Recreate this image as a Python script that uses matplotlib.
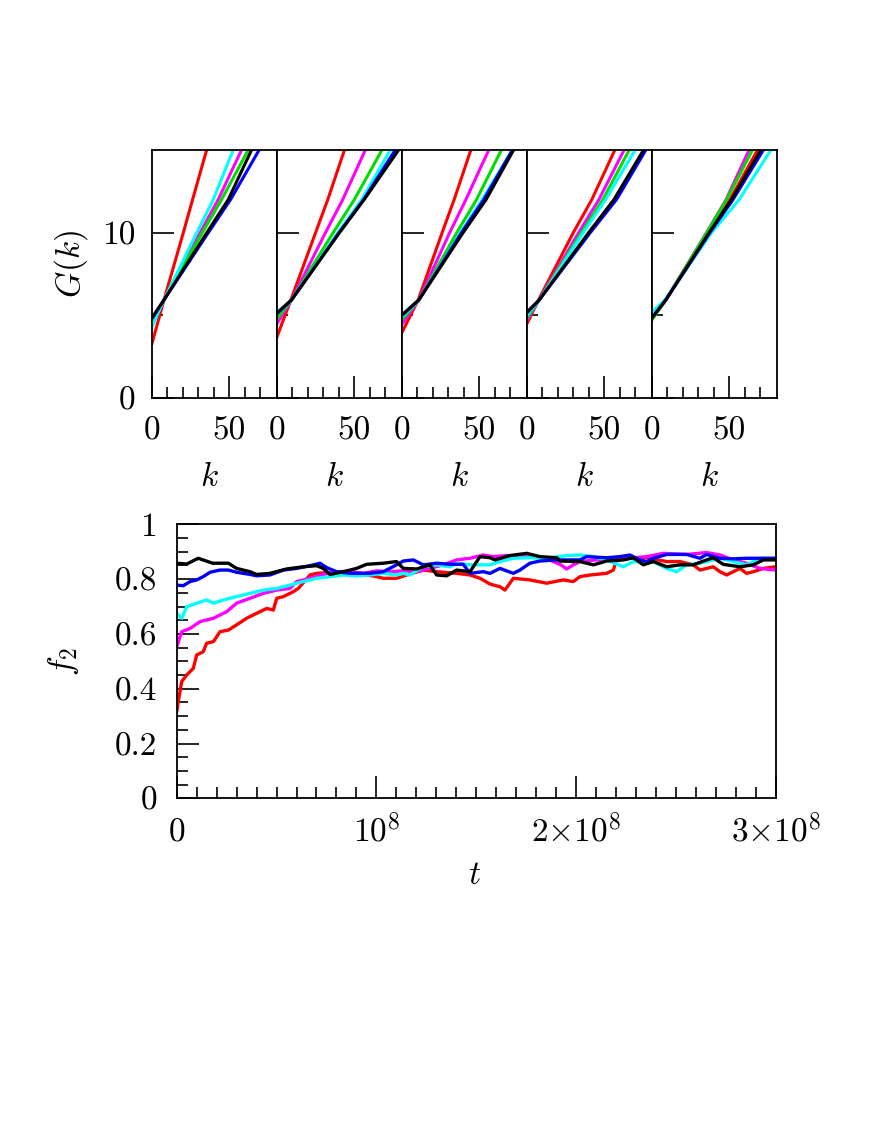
import numpy as np
import matplotlib
matplotlib.use("Agg")
import matplotlib.pyplot as plt
from matplotlib.ticker import FixedLocator, FixedFormatter, MultipleLocator

plt.rcParams['font.family'] = 'cmr10'
plt.rcParams['mathtext.fontset'] = 'cm'
plt.rcParams['axes.unicode_minus'] = False

colors = ['#ff0000', '#ff00ff', '#00dd00', '#00ffff', '#0000ff', '#000000']

# G(k) curves, 5 panels x 6 curves, k values at the G levels below
G_levels = [5.94, 10, 12, 15]
panel_G0 = [
    [3.3, 4.5, 4.65, 4.3, 4.8, 4.85],
    [3.7, 4.5, 4.8, 5.1, 5.1, 5.15],
    [3.96, 4.46, 4.73, 4.9, 5.0, 5.03],
    [4.5, 4.7, 4.85, 5.0, 5.15, 5.2],
    [4.8, 4.8, 4.73, 5.2, 4.85, 4.85],
]
panel_k = [
    [[7.8, 20.3, 26.3, 35.4], [7.8, 31.2, 42.9, 58.0], [7.8, 32.6, 45.1, 62.3],
     [7.8, 29.0, 39.7, 52.6], [7.8, 36.5, 50.9, 69.4], [7.8, 35.5, 49.4, 64.5]],
    [[9.0, 25.0, 32.9, 43.7], [9.5, 31.4, 42.6, 57.2], [9.5, 36.4, 50.1, 68.0],
     [9.5, 39.5, 54.9, 73.4], [9.5, 40.2, 56.1, 76.6], [9.5, 40.5, 56.5, 78.8]],
    [[10.5, 26.0, 33.8, 44.6], [11.0, 30.9, 41.4, 56.2], [11.0, 35.5, 48.3, 64.4],
     [11.0, 38.0, 52.0, 71.5], [11.0, 38.5, 53.0, 71.5], [11.0, 39.6, 54.5, 72.3]],
    [[7.5, 30.0, 42.0, 56.9], [8.0, 33.5, 46.6, 62.9], [8.0, 35.2, 49.2, 66.2],
     [8.0, 36.4, 50.9, 70.1], [8.0, 41.0, 58.0, 77.0], [8.0, 39.9, 56.3, 75.5]],
    [[9.0, 36.5, 50.5, 68.4], [9.0, 35.3, 48.0, 62.9], [9.0, 35.5, 48.3, 65.1],
     [8.5, 38.6, 56.5, 77.0], [9.0, 37.5, 52.5, 72.2], [9.0, 37.0, 51.5, 70.5]],
]

# f2(t), t in units of 1e8
t_red = [0.0, 0.008, 0.025, 0.05, 0.083, 0.1, 0.133, 0.15, 0.184, 0.217, 0.259, 0.3, 0.35, 0.4,
         0.451, 0.484, 0.501, 0.534, 0.584, 0.609, 0.668, 0.701, 0.801, 0.901, 1.001, 1.035, 1.101,
         1.152, 1.235, 1.302, 1.402, 1.469, 1.519, 1.569, 1.619, 1.644, 1.686, 1.769, 1.853, 1.936,
         1.986, 2.02, 2.07, 2.153, 2.187, 2.203, 2.27, 2.354, 2.454, 2.521, 2.587, 2.621, 2.687,
         2.721, 2.754, 2.821, 2.854, 2.888, 2.938, 3.0]
f_red = [0.316, 0.353, 0.426, 0.45, 0.474, 0.523, 0.535, 0.566, 0.572, 0.608, 0.614, 0.633, 0.657,
         0.675, 0.693, 0.687, 0.73, 0.736, 0.754, 0.766, 0.815, 0.821, 0.825, 0.821, 0.809, 0.803,
         0.803, 0.815, 0.833, 0.827, 0.821, 0.815, 0.803, 0.782, 0.772, 0.76, 0.803, 0.797, 0.785,
         0.797, 0.791, 0.809, 0.815, 0.821, 0.833, 0.87, 0.876, 0.878, 0.864, 0.864, 0.852, 0.833,
         0.845, 0.827, 0.815, 0.839, 0.821, 0.827, 0.839, 0.845]

t_mag = [0.0, 0.025, 0.067, 0.117, 0.184, 0.25, 0.3, 0.367, 0.434, 0.501, 0.567, 0.601, 0.668, 0.734,
         0.801, 0.868, 0.935, 1.001, 1.068, 1.135, 1.202, 1.268, 1.335, 1.402, 1.469, 1.535, 1.586,
         1.652, 1.719, 1.786, 1.853, 1.886, 1.92, 1.953, 1.986, 2.02, 2.103, 2.187, 2.27, 2.354,
         2.437, 2.554, 2.654, 2.721, 2.788, 2.854, 2.921, 3.0]
f_mag = [0.553, 0.608, 0.62, 0.645, 0.657, 0.681, 0.712, 0.73, 0.748, 0.76, 0.766, 0.791, 0.803,
         0.817, 0.827, 0.827, 0.821, 0.83, 0.827, 0.83, 0.827, 0.839, 0.852, 0.87, 0.876, 0.888,
         0.882, 0.886, 0.882, 0.882, 0.876, 0.864, 0.854, 0.837, 0.852, 0.864, 0.87, 0.876, 0.876,
         0.882, 0.894, 0.89, 0.897, 0.888, 0.87, 0.858, 0.839, 0.833]

t_cyan = [0.0, 0.025, 0.05, 0.1, 0.15, 0.184, 0.234, 0.3, 0.367, 0.434, 0.501, 0.567, 0.601, 0.634,
          0.701, 0.768, 0.834, 0.901, 0.968, 1.035, 1.101, 1.135, 1.168, 1.235, 1.302, 1.369, 1.402,
          1.469, 1.535, 1.569, 1.619, 1.686, 1.769, 1.853, 1.953, 2.02, 2.087, 2.153, 2.237, 2.287,
          2.387, 2.454, 2.504, 2.554, 2.621, 2.721, 2.788, 2.854, 2.921, 3.0]
f_cyan = [0.675, 0.657, 0.699, 0.712, 0.724, 0.712, 0.724, 0.736, 0.748, 0.76, 0.766, 0.778, 0.785,
          0.791, 0.803, 0.809, 0.815, 0.812, 0.815, 0.821, 0.815, 0.821, 0.815, 0.845, 0.852, 0.845,
          0.858, 0.852, 0.852, 0.852, 0.864, 0.876, 0.878, 0.876, 0.886, 0.888, 0.882, 0.87, 0.845,
          0.864, 0.864, 0.839, 0.827, 0.852, 0.858, 0.876, 0.864, 0.852, 0.876, 0.876]

t_blue = [0.0, 0.033, 0.067, 0.1, 0.133, 0.167, 0.217, 0.259, 0.3, 0.367, 0.4, 0.467, 0.534, 0.601,
          0.668, 0.718, 0.751, 0.801, 0.868, 0.968, 1.035, 1.101, 1.135, 1.185, 1.235, 1.302, 1.369,
          1.435, 1.469, 1.535, 1.569, 1.619, 1.686, 1.719, 1.769, 1.819, 1.903, 2.02, 2.053, 2.153,
          2.22, 2.27, 2.32, 2.354, 2.387, 2.454, 2.554, 2.621, 2.654, 2.721, 2.788, 2.854, 3.0]
f_blue = [0.778, 0.776, 0.791, 0.797, 0.809, 0.825, 0.833, 0.833, 0.825, 0.817, 0.812, 0.815, 0.833,
          0.839, 0.849, 0.858, 0.842, 0.827, 0.821, 0.821, 0.827, 0.852, 0.866, 0.87, 0.852, 0.858,
          0.854, 0.854, 0.821, 0.827, 0.821, 0.839, 0.821, 0.833, 0.858, 0.866, 0.87, 0.87, 0.882,
          0.878, 0.882, 0.888, 0.87, 0.864, 0.876, 0.89, 0.89, 0.876, 0.89, 0.876, 0.874, 0.876, 0.876]

t_black = [0.0, 0.05, 0.108, 0.18, 0.259, 0.3, 0.367, 0.4, 0.467, 0.551, 0.634, 0.701, 0.734, 0.768,
           0.834, 0.901, 0.951, 1.035, 1.101, 1.135, 1.202, 1.268, 1.302, 1.352, 1.402, 1.469, 1.519,
           1.569, 1.594, 1.669, 1.753, 1.819, 1.903, 1.92, 2.02, 2.087, 2.153, 2.237, 2.287, 2.337,
           2.387, 2.454, 2.521, 2.587, 2.654, 2.687, 2.737, 2.821, 2.888, 2.938, 3.0]
f_black = [0.858, 0.855, 0.876, 0.858, 0.858, 0.839, 0.827, 0.817, 0.821, 0.837, 0.845, 0.849, 0.839,
           0.817, 0.827, 0.839, 0.854, 0.858, 0.864, 0.839, 0.837, 0.852, 0.815, 0.812, 0.833, 0.827,
           0.882, 0.878, 0.87, 0.886, 0.894, 0.882, 0.878, 0.866, 0.864, 0.852, 0.866, 0.87, 0.878,
           0.852, 0.864, 0.845, 0.852, 0.852, 0.87, 0.878, 0.854, 0.845, 0.852, 0.87, 0.87]

fs = 24
fig = plt.figure(figsize=(8.72, 11.28), dpi=100)

# ---- top row: G(k)
x0, w = 152 / 872, 125 / 872
yb, h = 1 - 398 / 1128, 248 / 1128
for p in range(5):
    ax = fig.add_axes([x0 + p * w, yb, w, h])
    for c in range(6):
        kk = [0.0] + panel_k[p][c]
        gg = [panel_G0[p][c]] + G_levels
        ax.plot(kk, gg, color=colors[c], lw=2.2)
    ax.set_xlim(0, 81)
    ax.set_ylim(0, 15)
    ax.xaxis.set_major_locator(FixedLocator([0, 50]))
    ax.xaxis.set_major_formatter(FixedFormatter(['0', '50']))
    ax.xaxis.set_minor_locator(FixedLocator([10, 20, 30, 40, 60, 70]))
    ax.yaxis.set_major_locator(FixedLocator([0, 10]))
    ax.yaxis.set_minor_locator(FixedLocator([5]))
    if p == 0:
        ax.yaxis.set_major_formatter(FixedFormatter(['0', '10']))
        ax.set_ylabel('$G(k)$', fontsize=fs)
        ax.yaxis.set_label_coords(-0.5, 0.54)
    else:
        ax.set_yticklabels([])
    ax.tick_params(which='both', direction='in', top=False, right=False, labelsize=fs)
    ax.tick_params(which='major', length=16, width=1.2)
    ax.tick_params(which='minor', length=8, width=1.2)
    ax.tick_params(axis='y', pad=12)
    ax.tick_params(axis='x', pad=30)
    for lab in ax.get_xticklabels():
        lab.set_va('baseline')
    ax.set_xlabel('$k$', fontsize=fs)
    ax.xaxis.set_label_coords(0.46, -0.26)
    for s in ax.spines.values():
        s.set_linewidth(1.3)

# ---- bottom: f2(t)
ax = fig.add_axes([176.7 / 872, 1 - 798.3 / 1128, 599 / 872, 274 / 1128])
series = [(t_red, f_red, colors[0]), (t_mag, f_mag, colors[1]), (t_cyan, f_cyan, colors[3]),
          (t_blue, f_blue, colors[4]), (t_black, f_black, colors[5])]
for tt, ff, col in series:
    ax.plot(np.array(tt) * 1e8, ff, color=col, lw=2.4)
ax.set_xlim(0, 3e8)
ax.set_ylim(0, 1)
ax.xaxis.set_major_locator(FixedLocator([0, 1e8, 2e8, 3e8]))
ax.xaxis.set_major_formatter(FixedFormatter(['0', r'$10^8$', r'$2{\times}10^8$', r'$3{\times}10^8$']))
ax.xaxis.set_minor_locator(MultipleLocator(1e7))
ax.yaxis.set_major_locator(FixedLocator([0, 0.2, 0.4, 0.6, 0.8, 1.0]))
ax.yaxis.set_major_formatter(FixedFormatter(['0', '0.2', '0.4', '0.6', '0.8', '1']))
ax.yaxis.set_minor_locator(MultipleLocator(0.05))
ax.tick_params(which='both', direction='in', top=False, right=False, labelsize=fs)
ax.tick_params(which='major', length=16, width=1.2)
ax.tick_params(which='minor', length=8, width=1.2)
ax.tick_params(axis='y', pad=14)
ax.tick_params(axis='x', pad=31)
for lab in ax.get_xticklabels():
    lab.set_va('baseline')
ax.set_ylabel('$f_2$', fontsize=fs)
ax.yaxis.set_label_coords(-0.16, 0.5)
ax.set_xlabel('$t$', fontsize=fs)
ax.xaxis.set_label_coords(0.498, -0.23)
for s in ax.spines.values():
    s.set_linewidth(1.3)

fig.savefig('out.png', dpi=100)
